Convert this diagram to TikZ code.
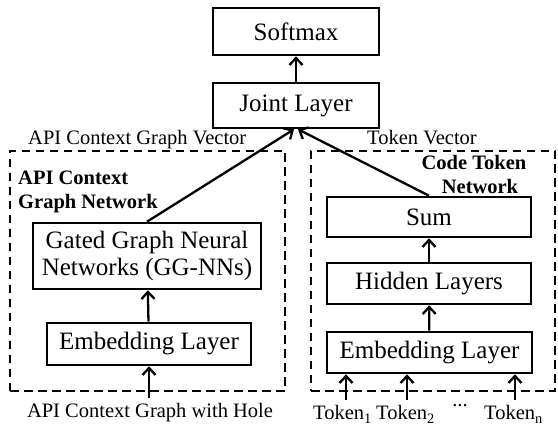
\documentclass[tikz,border=0pt]{standalone}
\usepackage{fontspec}
\setmainfont{Liberation Serif}
\usetikzlibrary{arrows.meta}

\tikzset{
  layerbox/.style={draw, line width=2.6pt, inner sep=0pt, align=center,
    font=\fontsize{25}{27}\selectfont},
  groupbox/.style={draw, dashed, dash pattern=on 8.5pt off 5.5pt, line width=2.6pt, inner sep=0pt},
  arr/.style={line width=2.3pt, -{Straight Barb[length=7pt,width=13pt,line width=2.3pt]}},
  link/.style={line width=2.3pt, -{Straight Barb[length=7pt,width=13pt,line width=2.3pt]}},
  lbl/.style={inner sep=0pt, font=\fontsize{20.5}{24}\selectfont},
  title/.style={inner sep=0pt, font=\fontsize{20.5}{24}\selectfont\bfseries},
}

\begin{document}
\begin{tikzpicture}[x=1pt, y=-1pt]
\useasboundingbox (0,0) rectangle (558,430);

% group frames
\node[groupbox, minimum width=275, minimum height=240] (left) at (147.5,271) {};
\node[groupbox, minimum width=244, minimum height=240] (right) at (433,271) {};

% output stack
\node[layerbox, minimum width=166, minimum height=47] (softmax) at (296,31.5) {Softmax};
\node[layerbox, minimum width=166, minimum height=45] (joint) at (296,105.5) {Joint Layer};

% API context graph network
\node[layerbox, minimum width=228, minimum height=66] (ggnn) at (147,256)
  {Gated Graph Neural\\Networks (GG-NNs)};
\node[layerbox, minimum width=204, minimum height=42] (embL) at (149,344) {Embedding Layer};

% code token network
\node[layerbox, minimum width=204, minimum height=40] (sum) at (429,217) {Sum};
\node[layerbox, minimum width=204, minimum height=41] (hidden) at (429,283.5) {Hidden Layers};
\node[layerbox, minimum width=205, minimum height=41] (embR) at (429.5,352.5) {Embedding Layer};

% titles and labels
\node[title, anchor=north west, align=left] (ltitle) at (18,171) {API Context\\Graph Network};
\node[title, anchor=north, align=center] (rtitle) at (474,155) {Code Token\\\hspace*{12pt}Network};
\node[lbl, anchor=base west] (vecL) at (28,145) {API Context Graph Vector};
\node[lbl, anchor=base west] (vecR) at (367,145) {Token Vector};

% inputs
\node[lbl, anchor=base] (graphin) at (150,418) {API Context Graph with Hole};
\node[lbl, anchor=base west] (tok1) at (313,420) {Token\textsubscript{1}};
\node[lbl, anchor=base west] (tok2) at (376,420) {Token\textsubscript{2}};
\node[lbl, anchor=base west] (tokn) at (484,420) {Token\textsubscript{n}};
\node[lbl, anchor=base] (dots) at (460,407) {...};

\coordinate (inG) at (149,398);
\coordinate (in1) at (346,400);
\coordinate (in2) at (407,400);
\coordinate (inN) at (515,400);

% connectors
\draw[arr] (joint) -- (softmax);
\draw[link] (ggnn.north) -- ([xshift=-2pt]joint.south);
\draw[link] (sum.north) -- ([xshift=2pt]joint.south);
\draw[arr] (embL) -- (ggnn);
\draw[arr] (inG) -- (inG |- embL.south);
\draw[arr] (hidden) -- (sum);
\draw[arr] (embR) -- (hidden);
\draw[arr] (in1) -- (in1 |- embR.south);
\draw[arr] (in2) -- (in2 |- embR.south);
\draw[arr] (inN) -- (inN |- embR.south);
\end{tikzpicture}
\end{document}
